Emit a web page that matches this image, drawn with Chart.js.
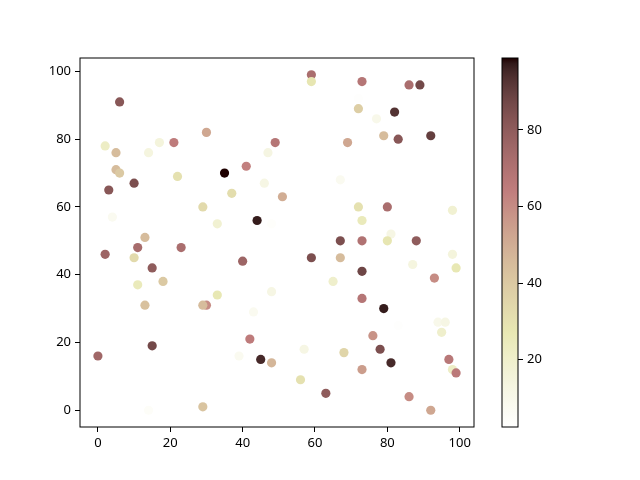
<!DOCTYPE html>
<html>
<head>
<meta charset="utf-8">
<script src="https://cdn.jsdelivr.net/npm/chart.js@4/dist/chart.umd.min.js"></script>
<style>
  body { margin: 0; background: #fff; }
  #wrap { position: relative; width: 640px; height: 480px; }
  #wrap canvas { position: absolute; left: 0; top: 0; }
</style>
</head>
<body>
<div id="wrap">
  <canvas id="scatter" width="640" height="480"></canvas>
  <canvas id="cbar" width="640" height="480"></canvas>
</div>
<script>
// scatter points
var xs = [6,30,2,17,21,49,5,14,47,41,5,6,35,22,10,3,46,37,29,4,33,44,48,13,
          59,59,73,86,89,72,72,77,82,69,79,83,92,67,51,72,80,98,73,81,67,73,80,88,
          11,23,2,10,40,15,11,18,33,48,13,26,30,29,43,42,15,0,39,45,48,29,14,
          59,67,98,73,87,99,65,93,73,79,83,94,96,95,76,57,68,78,81,73,97,98,99,56,63,86,92];
var ys = [91,82,78,79,79,79,76,76,76,72,71,70,70,69,67,65,67,64,60,57,55,56,55,51,
          99,97,97,96,96,92,89,86,88,79,81,80,81,68,63,60,60,59,56,52,50,50,50,50,
          48,48,46,45,44,42,37,38,34,35,31,31,31,31,29,21,19,16,16,15,14,1,0,
          45,45,46,41,43,42,38,39,33,30,25,26,26,23,22,18,17,18,14,12,15,12,11,9,5,4,0];
var cs = [82,52,22,15,65,68,45,14,13,63,45,40,98.8,30,85,82,12,32,33,8,18,97,4,45,
          72,28,68,72,87,3,38,10,93,52,45,82,90,8,50,30,72,18,25,12,85,70,28,80,
          73,72,76,33,76,80,25,40,27,12,43,2.4,60,45,8,65,87,75,8,95,47,42,5,
          85,45,15,88,14,27,20,60,68,97,3,10,12,20,58,12,35,85,95,55,67,22,66,30,80,60,52];

var xTicks = [0, 20, 40, 60, 80, 100];
var yTicks = [0, 20, 40, 60, 80, 100];
var cbTicks = [20, 40, 60, 80];

var vmin = Math.min.apply(null, cs);
var vmax = Math.max.apply(null, cs);

// matplotlib "pink" = sqrt((2*gray + hot)/3), reversed
function hot(t) {
  var r = t < 0.365079 ? 0.0416 + (1 - 0.0416) * t / 0.365079 : 1;
  var g = t < 0.365079 ? 0 : (t < 0.746032 ? (t - 0.365079) / (0.746032 - 0.365079) : 1);
  var b = t < 0.746032 ? 0 : (t - 0.746032) / (1 - 0.746032);
  return [r, g, b];
}
function pinkR(v) {
  var t = 1 - (v - vmin) / (vmax - vmin);
  t = Math.max(0, Math.min(1, t));
  var h = hot(t);
  var c = h.map(function(k){ return Math.round(255 * Math.sqrt((2 * t + k) / 3)); });
  return 'rgb(' + c[0] + ',' + c[1] + ',' + c[2] + ')';
}

Chart.defaults.font.family = '"Noto Sans", "DejaVu Sans", sans-serif';
Chart.defaults.font.size = 13;
Chart.defaults.color = '#000';

var frame = {
  id: 'frame',
  afterDraw: function(chart) {
    var a = chart.chartArea, ctx = chart.ctx;
    ctx.save();
    ctx.strokeStyle = '#000';
    ctx.lineWidth = 1;
    ctx.strokeRect(a.left, a.top, a.right - a.left, a.bottom - a.top);
    ctx.restore();
  }
};

var tickGrid = { display: true, drawOnChartArea: false, drawTicks: true, tickLength: 5, color: '#000', lineWidth: 1 };

var points = xs.map(function(x, i){ return { x: x, y: ys[i] }; });

new Chart(document.getElementById('scatter'), {
  type: 'scatter',
  data: {
    datasets: [{
      data: points,
      pointBackgroundColor: cs.map(pinkR),
      pointBorderWidth: 0,
      pointRadius: 4.6,
      pointHoverRadius: 4.6
    }]
  },
  options: {
    responsive: false,
    animation: false,
    devicePixelRatio: 1,
    layout: { padding: { left: 0, top: 58, right: 166, bottom: 0 } },
    plugins: { legend: { display: false }, tooltip: { enabled: false } },
    events: [],
    scales: {
      x: {
        type: 'linear', min: -4.95, max: 103.95,
        afterBuildTicks: function(s){ s.ticks = xTicks.map(function(v){ return { value: v }; }); },
        afterFit: function(s){ s.height = 53; },
        grid: tickGrid,
        border: { display: false },
        ticks: { padding: 3, maxRotation: 0 }
      },
      y: {
        type: 'linear', min: -4.95, max: 103.95,
        afterBuildTicks: function(s){ s.ticks = yTicks.map(function(v){ return { value: v }; }); },
        afterFit: function(s){ s.width = 80; },
        grid: tickGrid,
        border: { display: false },
        ticks: { padding: 4 }
      }
    }
  },
  plugins: [frame]
});

new Chart(document.getElementById('cbar'), {
  type: 'bar',
  data: {
    labels: [''],
    datasets: [{
      data: [[vmin, vmax]],
      barPercentage: 1,
      categoryPercentage: 1,
      borderWidth: 0,
      backgroundColor: function(context) {
        var chart = context.chart, a = chart.chartArea;
        if (!a) return null;
        var g = chart.ctx.createLinearGradient(0, a.bottom, 0, a.top);
        for (var i = 0; i <= 64; i++) {
          g.addColorStop(i / 64, pinkR(vmin + (vmax - vmin) * i / 64));
        }
        return g;
      }
    }]
  },
  options: {
    responsive: false,
    animation: false,
    devicePixelRatio: 1,
    layout: { padding: { left: 502, top: 58, right: 0, bottom: 53 } },
    plugins: { legend: { display: false }, tooltip: { enabled: false } },
    events: [],
    scales: {
      x: { display: false },
      y: {
        position: 'right', min: vmin, max: vmax,
        afterBuildTicks: function(s){ s.ticks = cbTicks.map(function(v){ return { value: v }; }); },
        afterFit: function(s){ s.width = 122; },
        grid: tickGrid,
        border: { display: false },
        ticks: { padding: 4 }
      }
    }
  },
  plugins: [frame]
});
</script>
</body>
</html>
